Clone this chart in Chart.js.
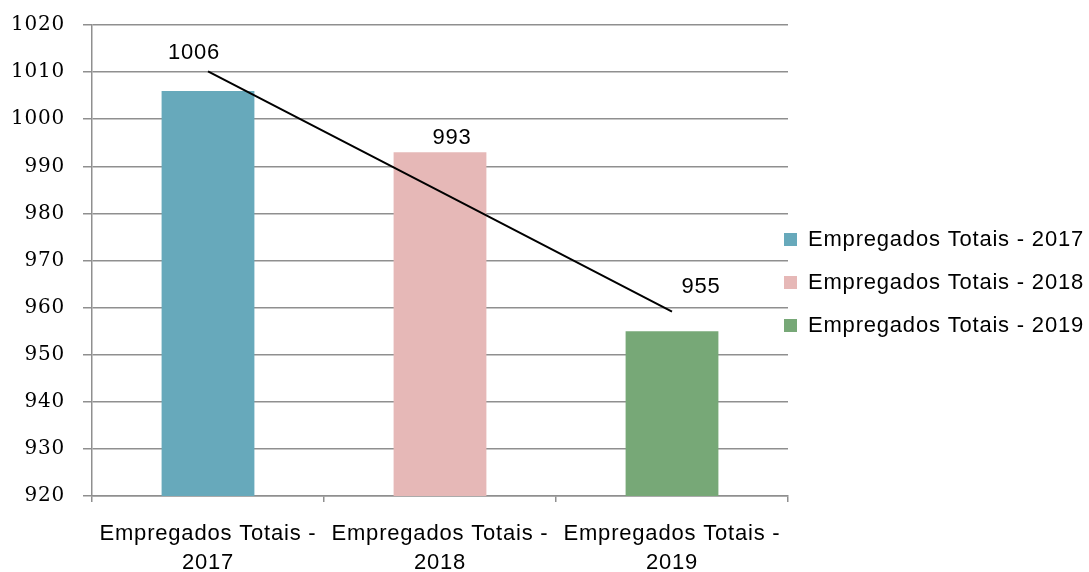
<!DOCTYPE html>
<html>
<head>
<meta charset="utf-8">
<script src="https://cdn.jsdelivr.net/npm/chart.js@4.4.1/dist/chart.umd.min.js"></script>
<style>
  html, body { margin: 0; padding: 0; background: #ffffff; }
  #chart { display: block; }
</style>
</head>
<body>
<canvas id="chart" width="1089" height="572"></canvas>
<script>
// ---- Data ----
const categories = ['Empregados Totais - 2017', 'Empregados Totais - 2018', 'Empregados Totais - 2019'];
const values = [1006, 993, 955];
const barColors = ['#67a9bb', '#e6b8b7', '#77a877'];
const yMin = 920;
const yMax = 1020;
const yStep = 10;

const gridColor = '#8f8f8f';
const fontFamily = '"Liberation Sans", Arial, sans-serif';
const axisFontFamily = '"DejaVu Serif", serif';
const fontSize = 22;

// Least-squares trend through the bar values (one point per category)
function linearTrend(ys) {
    const n = ys.length;
    const mx = (n - 1) / 2;
    const my = ys.reduce((a, b) => a + b, 0) / n;
    let num = 0, den = 0;
    ys.forEach((y, x) => { num += (x - mx) * (y - my); den += (x - mx) ** 2; });
    const slope = num / den;
    return ys.map((_, x) => my + slope * (x - mx));
}

// "Empregados Totais - 2017" -> ["Empregados Totais -", "2017"]
function splitLabel(text) {
    const cut = text.lastIndexOf(' ');
    return [text.slice(0, cut), text.slice(cut + 1)];
}

// Canvas resets lose letterSpacing, so set it again before measuring and drawing
const letterSpacing = {
    id: 'letterSpacing',
    beforeLayout(chart, args, opts) { chart.ctx.letterSpacing = opts.value; },
    beforeDraw(chart, args, opts) { chart.ctx.letterSpacing = opts.value; }
};

// Widen the legend to the left so its boxes sit on the right edge of the plot
const legendShift = {
    id: 'legendShift',
    afterLayout(chart, args, opts) {
        const lg = chart.legend;
        if (!lg) return;
        lg.left += opts.dx;
        lg.width = lg.right - lg.left;
        lg.top += opts.dy; lg.bottom += opts.dy;
    }
};

// Value labels above each bar
const barValueLabels = {
    id: 'barValueLabels',
    afterDatasetsDraw(chart, args, opts) {
        const ctx = chart.ctx;
        ctx.save();
        ctx.font = fontSize + 'px ' + fontFamily;
        ctx.fillStyle = '#000000';
        ctx.textAlign = 'center';
        ctx.textBaseline = 'middle';
        values.forEach((v, i) => {
            const bar = chart.getDatasetMeta(i).data[i];
            const [dx, dy] = opts.offsets[i];
            ctx.fillText(String(v), bar.x + dx, bar.y + dy);
        });
        ctx.restore();
    }
};

// ---- Build the chart ----
const barDatasets = categories.map((label, i) => ({
    type: 'bar',
    label: label,
    data: categories.map((_, j) => (j === i ? values[i] : null)),
    backgroundColor: barColors[i],
    borderWidth: 0,
    skipNull: true,
    categoryPercentage: 0.8,
    barPercentage: 0.5,
    order: 1
}));

const trendDataset = {
    type: 'line',
    label: 'Linear (Empregados Totais)',
    data: linearTrend(values),
    borderColor: '#000000',
    borderWidth: 2,
    pointRadius: 0,
    fill: false,
    tension: 0,
    order: 0
};

Chart.defaults.font.family = fontFamily;
Chart.defaults.font.size = fontSize;
Chart.defaults.color = '#000000';

const ctx = document.getElementById('chart').getContext('2d');
new Chart(ctx, {
    type: 'bar',
    data: {
        labels: categories,
        datasets: [...barDatasets, trendDataset]
    },
    plugins: [letterSpacing, legendShift, barValueLabels],
    options: {
        responsive: false,
        animation: false,
        layout: { padding: { top: 20, right: 0, bottom: 0, left: 0 } },
        scales: {
            x: {
                offset: true,
                grid: {
                    offset: true,
                    drawOnChartArea: false,
                    drawTicks: true,
                    tickLength: 6,
                    color: gridColor,
                    lineWidth: 1.5
                },
                border: { display: true, color: gridColor, width: 1.5 },
                ticks: {
                    padding: 18,
                    maxRotation: 0,
                    autoSkip: false,
                    color: '#000000',
                    font: { size: fontSize, lineHeight: 1.3 },
                    callback: (value, index) => splitLabel(categories[index])
                },
                afterFit: (scale) => { scale.height = 76; }
            },
            y: {
                min: yMin,
                max: yMax,
                ticks: {
                    stepSize: yStep,
                    padding: 18,
                    color: '#000000',
                    // small lineHeight keeps the top label from pushing the plot down
                    font: { family: axisFontFamily, size: 20, lineHeight: 0.7 },
                    callback: (value) => String(value)
                },
                grid: { color: gridColor, lineWidth: 1.5, tickLength: 9 },
                border: { display: true, color: gridColor, width: 1.5 },
                afterFit: (scale) => { scale.width = 92; }
            }
        },
        plugins: {
            letterSpacing: { value: '0.8px' },
            legendShift: { dx: -25, dy: -13.5 },
            barValueLabels: { offsets: [[-14, -38], [12, -14], [29, -44]] },
            legend: {
                position: 'right',
                align: 'center',
                maxWidth: 301,
                labels: {
                    boxWidth: 13,
                    boxHeight: 13,
                    padding: 21,
                    color: '#000000',
                    font: { size: fontSize },
                    filter: (item) => item.datasetIndex < categories.length
                }
            },
            tooltip: { enabled: false },
            title: { display: false }
        }
    }
});
</script>
</body>
</html>
